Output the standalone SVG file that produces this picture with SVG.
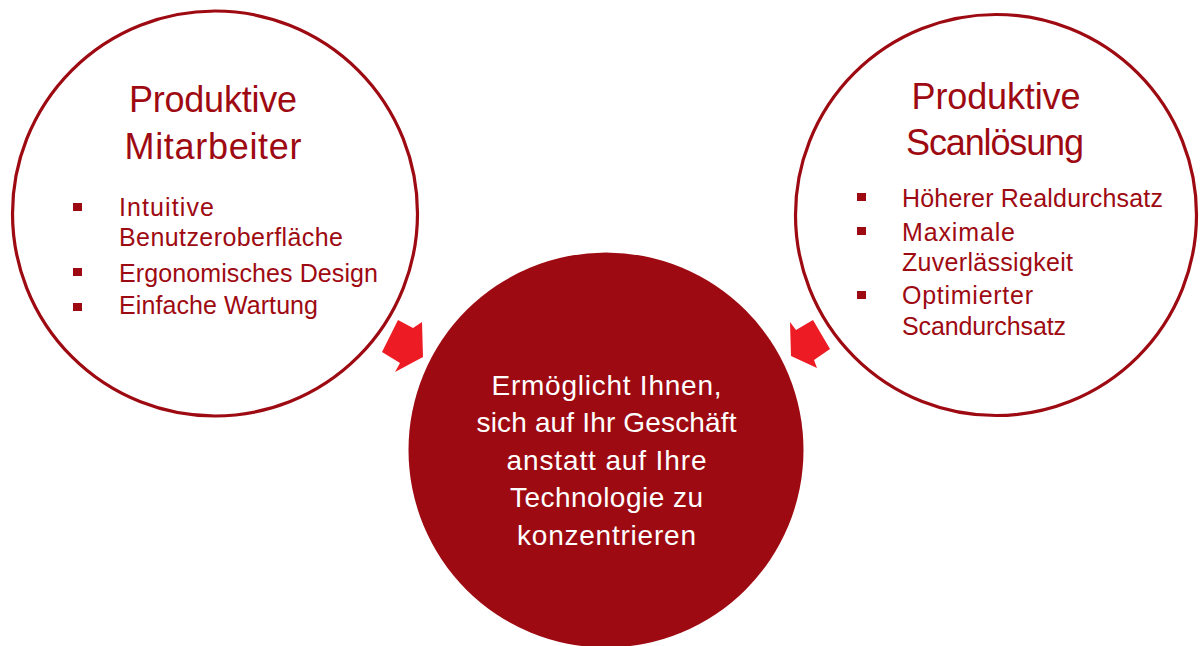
<svg xmlns="http://www.w3.org/2000/svg" width="1200" height="646" viewBox="0 0 1200 646">
  <style>
    .ring { fill: #ffffff; stroke: #9E0A12; stroke-width: 3.2; }
    .core { fill: #9E0A12; }
    .title { font-family: "Liberation Sans", Arial, sans-serif; font-size: 36px; fill: #9E0A12; text-anchor: middle; }
    .item { font-family: "Liberation Sans", Arial, sans-serif; font-size: 25px; fill: #9E0A12; }
    .mid { font-family: "Liberation Sans", Arial, sans-serif; font-size: 28px; fill: #ffffff; text-anchor: middle; }
    .bullet { fill: #9E0A12; }
    .arrow { fill: #ED1C24; }
  </style>
  <g id="left-node">
    <circle class="ring" cx="215" cy="213.5" r="202.5"/>
    <text class="title" x="213" y="112" textLength="168">Produktive</text>
    <text class="title" x="213" y="159" textLength="177">Mitarbeiter</text>
    <rect class="bullet" x="73" y="203" width="9" height="8"/>
    <text class="item" x="119" y="216" textLength="95">Intuitive</text>
    <text class="item" x="119" y="246" textLength="224">Benutzeroberfläche</text>
    <rect class="bullet" x="73" y="268" width="9" height="8"/>
    <text class="item" x="119" y="281.5" textLength="259">Ergonomisches Design</text>
    <rect class="bullet" x="73" y="303" width="9" height="8"/>
    <text class="item" x="119" y="314" textLength="199">Einfache Wartung</text>
  </g>
  <g id="right-node">
    <circle class="ring" cx="996" cy="215" r="200.5"/>
    <text class="title" x="996" y="109" textLength="169">Produktive</text>
    <text class="title" x="995" y="155" textLength="178">Scanlösung</text>
    <rect class="bullet" x="857" y="193" width="9" height="8"/>
    <text class="item" x="902" y="206.5" textLength="261">Höherer Realdurchsatz</text>
    <rect class="bullet" x="857" y="227" width="9" height="8"/>
    <text class="item" x="902" y="241" textLength="113">Maximale</text>
    <text class="item" x="902" y="270.5" textLength="171">Zuverlässigkeit</text>
    <rect class="bullet" x="857" y="291" width="9" height="8"/>
    <text class="item" x="902" y="304" textLength="131">Optimierter</text>
    <text class="item" x="902" y="335" textLength="164">Scandurchsatz</text>
  </g>
  <g id="center-node">
    <circle class="core" cx="606" cy="450" r="197.5"/>
    <text class="mid" x="606.5" y="395" textLength="230">Ermöglicht Ihnen,</text>
    <text class="mid" x="606.5" y="431.5" textLength="260">sich auf Ihr Geschäft</text>
    <text class="mid" x="606.5" y="470" textLength="200">anstatt auf Ihre</text>
    <text class="mid" x="606.5" y="507" textLength="193">Technologie zu</text>
    <text class="mid" x="606.5" y="545" textLength="179">konzentrieren</text>
  </g>
  <g id="connectors">
    <polygon class="arrow" points="382,352 398,320 413,328 422,322 423,357 395,372 400,363"/>
    <polygon class="arrow" points="830,349 813,320 796,330 790,322 791,356 817,368 814,360"/>
  </g>
</svg>
